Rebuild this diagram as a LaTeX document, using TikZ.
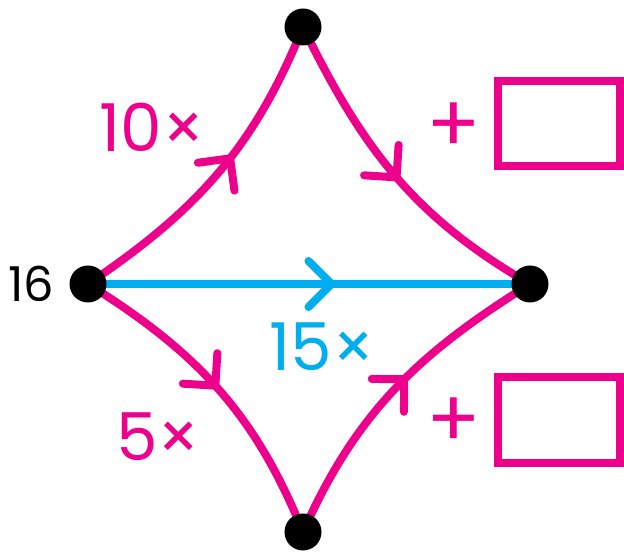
\documentclass[tikz,border=0pt]{standalone}
\usepackage{fontspec}
\setmainfont{Poppins}
\usetikzlibrary{arrows.meta,decorations.markings}
\definecolor{mpink}{RGB}{236,0,140}
\definecolor{mblue}{RGB}{0,174,239}
\tikzset{
  edgeline/.style={line width=8pt,line cap=round},
  midarrow/.style={postaction={decorate},decoration={markings,
    mark=at position #1 with {\arrow{Straight Barb[length=23pt,width=46pt,round]}}}},
  dot/.style={circle,fill=black,minimum size=37pt,inner sep=0pt},
  lbl/.style={font=\fontsize{66}{70}\selectfont,inner sep=0pt},
  ansbox/.style={draw=mpink,line width=8pt},
}
\begin{document}
\begin{tikzpicture}[x=1pt,y=1pt]
\useasboundingbox (0,0) rectangle (624,554);
\coordinate (L) at (88,270);
\coordinate (T) at (303,527);
\coordinate (R) at (530,270);
\coordinate (B) at (303,22);
% edges
\draw[edgeline,mpink,midarrow=0.57] (L) to[out=34,in=248] (T);
\draw[edgeline,mpink,midarrow=0.52] (T) to[out=-64,in=150] (R);
\draw[edgeline,mpink,midarrow=0.5] (L) to[out=-32,in=112] (B);
\draw[edgeline,mpink,midarrow=0.55] (B) to[out=66,in=212] (R);
\draw[edgeline,mblue,midarrow=0.56] (L) -- (R);
% nodes
\node[dot] (nL) at (L) {};
\node[dot] (nT) at (T) {};
\node[dot] (nR) at (R) {};
\node[dot] (nB) at (B) {};
% labels
\node[lbl,black,font=\fontsize{48}{52}\selectfont] (t16) at (31,270) {16};
\node[lbl,mpink] (t10) at (152,427) {10×};
\node[lbl,mpink] (t5) at (158,117) {5×};
\node[lbl,mblue] (t15) at (322,207) {15×};
\node[lbl,mpink,font=\fontsize{80}{84}\selectfont] (p1) at (454,426) {+};
\node[lbl,mpink,font=\fontsize{80}{84}\selectfont] (p2) at (454,131) {+};
\draw[ansbox] (498,473) rectangle (620,388);
\draw[ansbox] (498,177) rectangle (620,91);
\end{tikzpicture}
\end{document}
